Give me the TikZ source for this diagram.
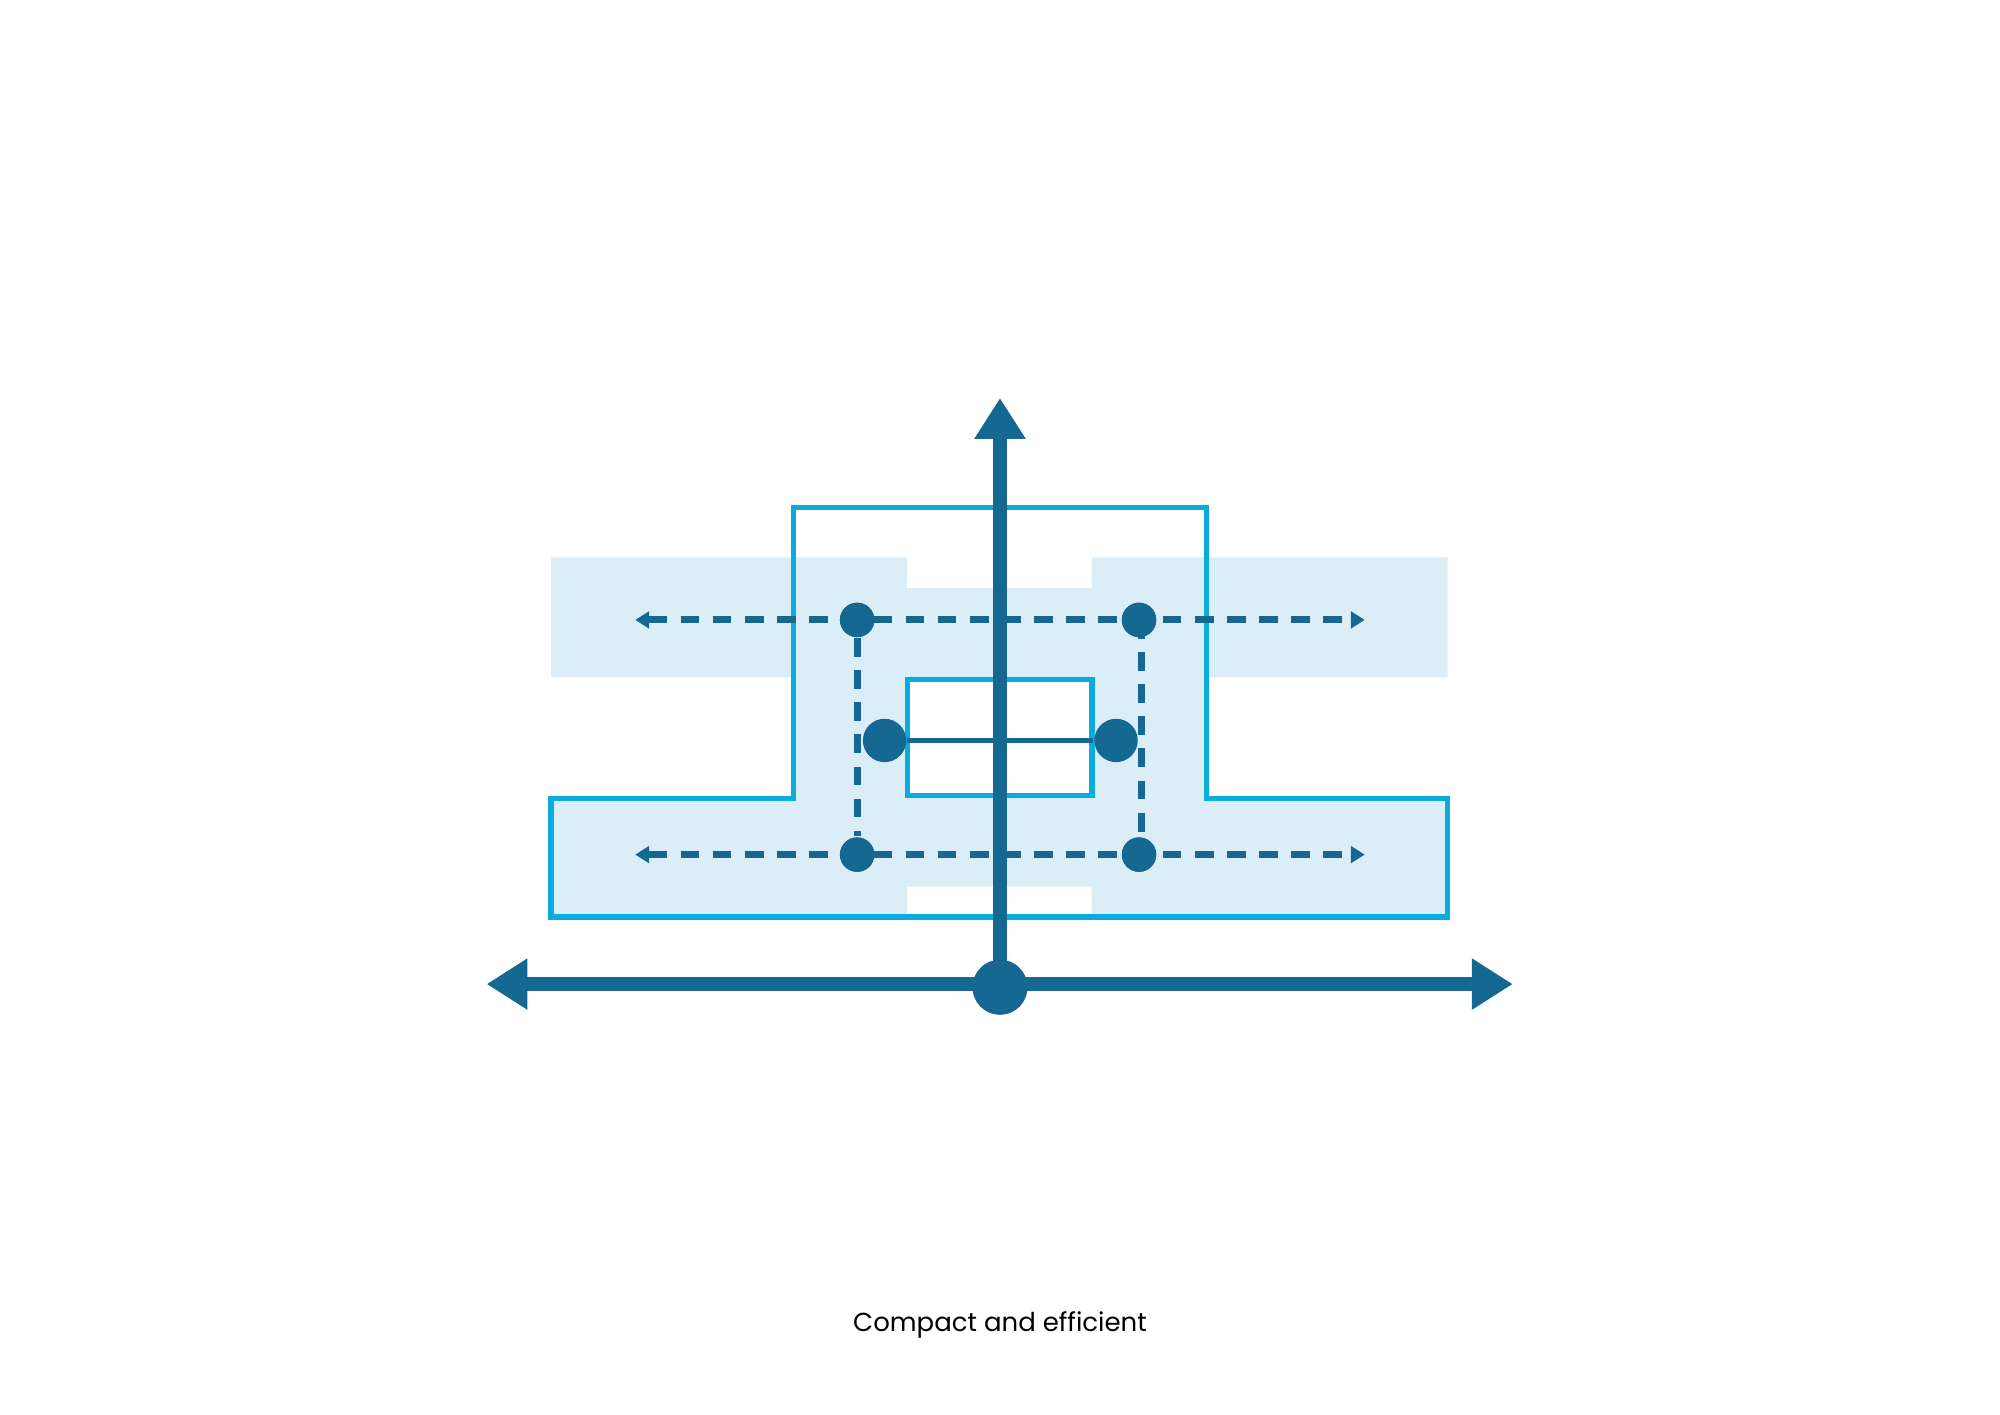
\documentclass[tikz,border=0pt]{standalone}
\usepackage{fontspec}
\setmainfont{Poppins}
\usepackage{tikz}
\usetikzlibrary{arrows.meta,positioning}
\definecolor{axisblue}{RGB}{21,104,146}
\definecolor{wallcyan}{RGB}{10,172,222}
\definecolor{floorblue}{RGB}{219,238,248}
\tikzstyle{axis} = [line width=1.05mm, color=axisblue, -{Triangle[length=3.2mm,width=3.8mm]}]
\tikzstyle{wall} = [line width=0.42mm, draw=wallcyan, line join=miter]
\tikzstyle{route} = [line width=0.55mm, color=axisblue, dash pattern=on 1.47mm off 1.05mm, {Triangle[length=1.1mm,width=1.3mm]}-{Triangle[length=1.1mm,width=1.3mm]}]
\tikzstyle{link} = [line width=0.36mm, color=axisblue]
\tikzstyle{dot} = [circle, fill=axisblue, inner sep=0pt, minimum size=2.7mm]
\tikzstyle{bigdot} = [dot, minimum size=3.4mm]
\tikzstyle{hubdot} = [dot, minimum size=4.3mm]

\begin{document}
\begin{tikzpicture}[x=0.1mm, y=-0.1mm]
\useasboundingbox (0,0) rectangle (1568,1109);

% Floor area
\fill[floorblue] (432,437) -- (711,437) -- (711,461) -- (856,461) -- (856,437) -- (1135,437)
  -- (1135,531) -- (946,531) -- (946,626) -- (1135,626) -- (1135,719) -- (856,719)
  -- (856,695) -- (711,695) -- (711,719) -- (432,719) -- (432,626) -- (622,626)
  -- (622,531) -- (432,531) -- cycle;
\draw[wall] (432,626) -- (622,626) -- (622,398) -- (946,398) -- (946,626)
  -- (1135,626) -- (1135,719) -- (432,719) -- cycle;
\draw[wall, fill=white] (711.5,532.5) rectangle (856,623.5);

% Routes
\node (tl) [dot] at (672,486) {};
\node (tr) [dot, right=2.21cm of tl.center, anchor=center] {};
\node (bl) [dot] at (672,670) {};
\node (br) [dot, right=2.21cm of bl.center, anchor=center] {};
\node (ml) [bigdot] at (693.5,580.5) {};
\node (mr) [bigdot] at (875,580.5) {};
\coordinate (tlend) at (498,486);
\coordinate (trend) at (1070,486);
\coordinate (blend) at (498,670);
\coordinate (brend) at (1070,670);

\draw[route] (tlend) -- (trend);
\draw[route] (blend) -- (brend);
\draw[route, -] (tl) -- (bl);
\draw[route, -] ([xshift=0.2mm]tr.center) -- ([xshift=0.2mm]br.center);
\draw[link] (ml) -- (mr);
\node[dot] at (tl) {};
\node[dot] at (tr) {};
\node[dot] at (bl) {};
\node[dot] at (br) {};

% Axes
\node (hub) [hubdot] at (784,774) {};
\coordinate (north) at (784,312);
\coordinate (west) at (381.5,771.5);
\coordinate (east) at (1186,771.5);
\draw[axis] (784,771.5) -- (north);
\draw[axis, {Triangle[length=3.2mm,width=3.8mm]}-{Triangle[length=3.2mm,width=3.8mm]}] (west) -- (east);
\node[hubdot] at (hub) {};

% Label
\node (caption) at (784,1039) {\fontsize{5.8}{7}\selectfont Compact and efficient};
\end{tikzpicture}
\end{document}
